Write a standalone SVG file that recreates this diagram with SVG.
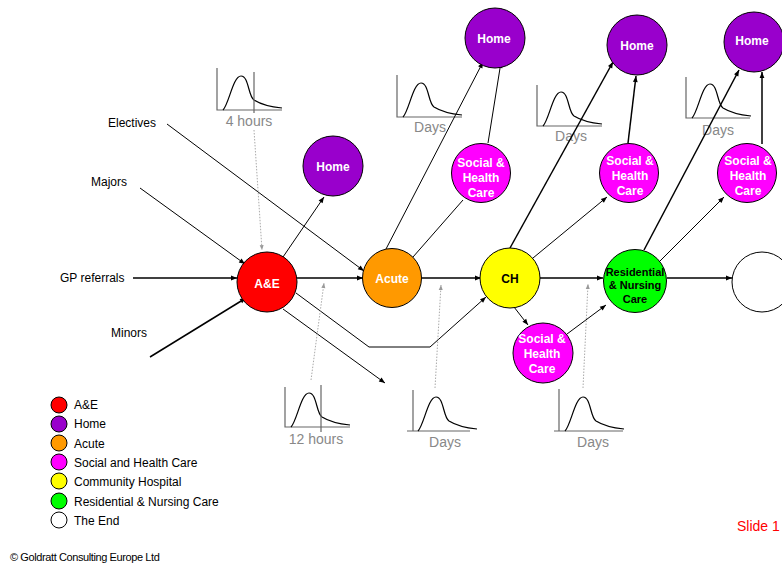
<svg xmlns="http://www.w3.org/2000/svg" width="782" height="563" viewBox="0 0 782 563">
<style>
.n{stroke:#000;stroke-width:1}
.w{font-family:"Liberation Sans",Arial,sans-serif;font-weight:bold;font-size:12px;fill:#fff;text-anchor:middle}
.b{font-family:"Liberation Sans",Arial,sans-serif;font-weight:bold;font-size:12px;fill:#000;text-anchor:middle}
.lbl{font-family:"Liberation Sans",Arial,sans-serif;font-size:12px;fill:#000}
.g{font-family:"Liberation Sans",Arial,sans-serif;font-size:14px;fill:#888;text-anchor:middle}
.e{fill:none;stroke:#000;stroke-width:1}
.e2{fill:none;stroke:#000;stroke-width:1.5}
.d{fill:none;stroke:#aaa;stroke-width:1;stroke-dasharray:1.5 1.5}
.ax{fill:none;stroke:#666;stroke-width:1.2}
.cv{fill:none;stroke:#000;stroke-width:1.2}
</style>
<defs>
<marker id="a" viewBox="0 0 10 10" refX="10" refY="5" markerWidth="7" markerHeight="6" markerUnits="userSpaceOnUse" orient="auto"><path d="M0,1 L10,5 L0,9 z" fill="#000"/></marker>
<marker id="ag" viewBox="0 0 10 10" refX="10" refY="5" markerWidth="6" markerHeight="5" markerUnits="userSpaceOnUse" orient="auto"><path d="M0,1 L10,5 L0,9 z" fill="#999"/></marker>
<path id="curve" class="cv" d="M6,0 C12,-6 16,-34 24,-34 C32,-34 31,-14 37,-10 C45,-5 55,-3 65,-2"/>
</defs>

<g id="charts">
  <g id="chart-4h">
    <path class="ax" d="M217,68 V110 H282"/>
    <use href="#curve" x="217" y="110"/>
    <path class="ax" d="M254,72 V113"/>
    <text class="g" x="249" y="126">4 hours</text>
  </g>
  <g id="chart-acute">
    <path class="ax" d="M397,75 V117 H462"/>
    <use href="#curve" x="397" y="117"/>
    <text class="g" x="430" y="132">Days</text>
  </g>
  <g id="chart-ch">
    <path class="ax" d="M537,85 V126 H602"/>
    <use href="#curve" x="537" y="126"/>
    <text class="g" x="571" y="141">Days</text>
  </g>
  <g id="chart-res">
    <path class="ax" d="M686,77 V118 H750"/>
    <use href="#curve" x="686" y="118"/>
    <text class="g" x="718" y="135">Days</text>
  </g>
  <g id="chart-12h">
    <path class="ax" d="M285,387 V427 H350"/>
    <use href="#curve" x="285" y="427"/>
    <path class="ax" d="M321,385 V432"/>
    <text class="g" x="316" y="444">12 hours</text>
  </g>
  <g id="chart-days1">
    <path class="ax" d="M413,390 V431 M407,431 H470"/>
    <use href="#curve" x="412" y="431"/>
    <text class="g" x="445" y="447">Days</text>
  </g>
  <g id="chart-days2">
    <path class="ax" d="M559,389 V431 M554,431 H623"/>
    <use href="#curve" x="559" y="431"/>
    <text class="g" x="593" y="447">Days</text>
  </g>
</g>

<g id="connectors">
  <path class="e" d="M167,124 L364,271" marker-end="url(#a)"/>
  <path class="e" d="M140,188 L245,264" marker-end="url(#a)"/>
  <path class="e2" d="M133,278 L237,278" marker-end="url(#a)"/>
  <path class="e2" d="M150,357 L246,298" marker-end="url(#a)"/>
  <path class="e2" d="M297,278 L363,278" marker-end="url(#a)"/>
  <path class="e" d="M283,257 L324,197" marker-end="url(#a)"/>
  <path class="e" d="M296,293 L369,347 L430,347 L486,297" marker-end="url(#a)"/>
  <path class="e" d="M283,309 L385,383" marker-end="url(#a)"/>
  <path class="e" d="M386,249 L483,62" marker-end="url(#a)"/>
  <path class="e" d="M413,257 L463,200"/>
  <path class="e" d="M488,143 L501,62" marker-end="url(#a)"/>
  <path class="e2" d="M422,278 L481,278" marker-end="url(#a)"/>
  <path class="e2" d="M510,248 L613,62" marker-end="url(#a)"/>
  <path class="e" d="M533,258 L607,197" marker-end="url(#a)"/>
  <path class="e2" d="M628,143 L636,76" marker-end="url(#a)"/>
  <path class="e2" d="M540,278 L603,278" marker-end="url(#a)"/>
  <path class="e" d="M514,307 L528,325" marker-end="url(#a)"/>
  <path class="e" d="M567,334 L606,305" marker-end="url(#a)"/>
  <path class="e2" d="M644,250 L739,70" marker-end="url(#a)"/>
  <path class="e" d="M659,262 L724,197" marker-end="url(#a)"/>
  <path class="e2" d="M762,144 L762,72" marker-end="url(#a)"/>
  <path class="e2" d="M667,278 L732,278" marker-end="url(#a)"/>
  <path class="d" d="M254,130 L262,250" marker-end="url(#ag)"/>
  <path class="d" d="M311,380 L324,283" marker-end="url(#ag)"/>
  <path class="d" d="M435,388 L441,285" marker-end="url(#ag)"/>
  <path class="d" d="M583,388 L588,284" marker-end="url(#ag)"/>
</g>

<g id="inputs">
  <text class="lbl" x="108" y="127">Electives</text>
  <text class="lbl" x="91" y="186">Majors</text>
  <text class="lbl" x="60" y="282">GP referrals</text>
  <text class="lbl" x="111" y="337">Minors</text>
</g>

<g id="ae"><circle class="n" cx="267" cy="282" r="30" fill="#FF0000"/><text class="w" x="267" y="288">A&amp;E</text></g>
<g id="home0"><circle class="n" cx="333" cy="166" r="30" fill="#9900CC"/><text class="w" x="333" y="171">Home</text></g>
<g id="acute"><circle class="n" cx="392" cy="278" r="29.5" fill="#FF9900"/><text class="w" x="392" y="283">Acute</text></g>
<g id="home1"><circle class="n" cx="495" cy="38" r="30" fill="#9900CC"/><text class="w" x="494" y="43">Home</text></g>
<g id="social1"><circle class="n" cx="481" cy="173" r="29.5" fill="#FF00FF"/><text class="w" x="481" y="167">Social &amp;</text><text class="w" x="481" y="182">Health</text><text class="w" x="481" y="197">Care</text></g>
<g id="ch"><circle class="n" cx="510" cy="278" r="30" fill="#FFFF00"/><text class="b" x="510" y="283">CH</text></g>
<g id="home2"><circle class="n" cx="637" cy="45" r="30" fill="#9900CC"/><text class="w" x="637" y="50">Home</text></g>
<g id="social2"><circle class="n" cx="629" cy="173" r="29.5" fill="#FF00FF"/><text class="w" x="630" y="165">Social &amp;</text><text class="w" x="630" y="180">Health</text><text class="w" x="630" y="195">Care</text></g>
<g id="social-b"><circle class="n" cx="543" cy="353" r="30" fill="#FF00FF"/><text class="w" x="542" y="343">Social &amp;</text><text class="w" x="542" y="358">Health</text><text class="w" x="542" y="373">Care</text></g>
<g id="residential"><circle class="n" cx="635" cy="281" r="31.5" fill="#00FF00"/><text class="b" x="635" y="276" style="font-size:11px">Residential</text><text class="b" x="635" y="289" style="font-size:11px">&amp; Nursing</text><text class="b" x="635" y="303" style="font-size:11px">Care</text></g>
<g id="home3"><circle class="n" cx="754" cy="42" r="30" fill="#9900CC"/><text class="w" x="752" y="45">Home</text></g>
<g id="social3"><circle class="n" cx="747" cy="173" r="29.5" fill="#FF00FF"/><text class="w" x="748" y="165">Social &amp;</text><text class="w" x="748" y="180">Health</text><text class="w" x="748" y="195">Care</text></g>
<g id="end"><circle class="n" cx="762" cy="282" r="30" fill="#FFFFFF"/></g>

<g id="legend">
  <circle class="n" cx="59" cy="405" r="8" fill="#FF0000"/><text class="lbl" x="74" y="409">A&amp;E</text>
  <circle class="n" cx="59" cy="424" r="8" fill="#9900CC"/><text class="lbl" x="74" y="428">Home</text>
  <circle class="n" cx="59" cy="443" r="8" fill="#FF9900"/><text class="lbl" x="74" y="448">Acute</text>
  <circle class="n" cx="59" cy="462" r="8" fill="#FF00FF"/><text class="lbl" x="74" y="467">Social and Health Care</text>
  <circle class="n" cx="59" cy="481" r="8" fill="#FFFF00"/><text class="lbl" x="74" y="486">Community Hospital</text>
  <circle class="n" cx="59" cy="501" r="8" fill="#00FF00"/><text class="lbl" x="74" y="506">Residential &amp; Nursing Care</text>
  <circle class="n" cx="59" cy="520" r="8" fill="#FFFFFF"/><text class="lbl" x="74" y="525">The End</text>
</g>

<text x="10" y="561" style="font-family:'Liberation Sans',Arial,sans-serif;font-size:11px;letter-spacing:-0.4px;fill:#000">© Goldratt Consulting Europe Ltd</text>
<text x="737" y="531" style="font-family:'Liberation Sans',Arial,sans-serif;font-size:14px;fill:#FF0000">Slide 1</text>
</svg>
